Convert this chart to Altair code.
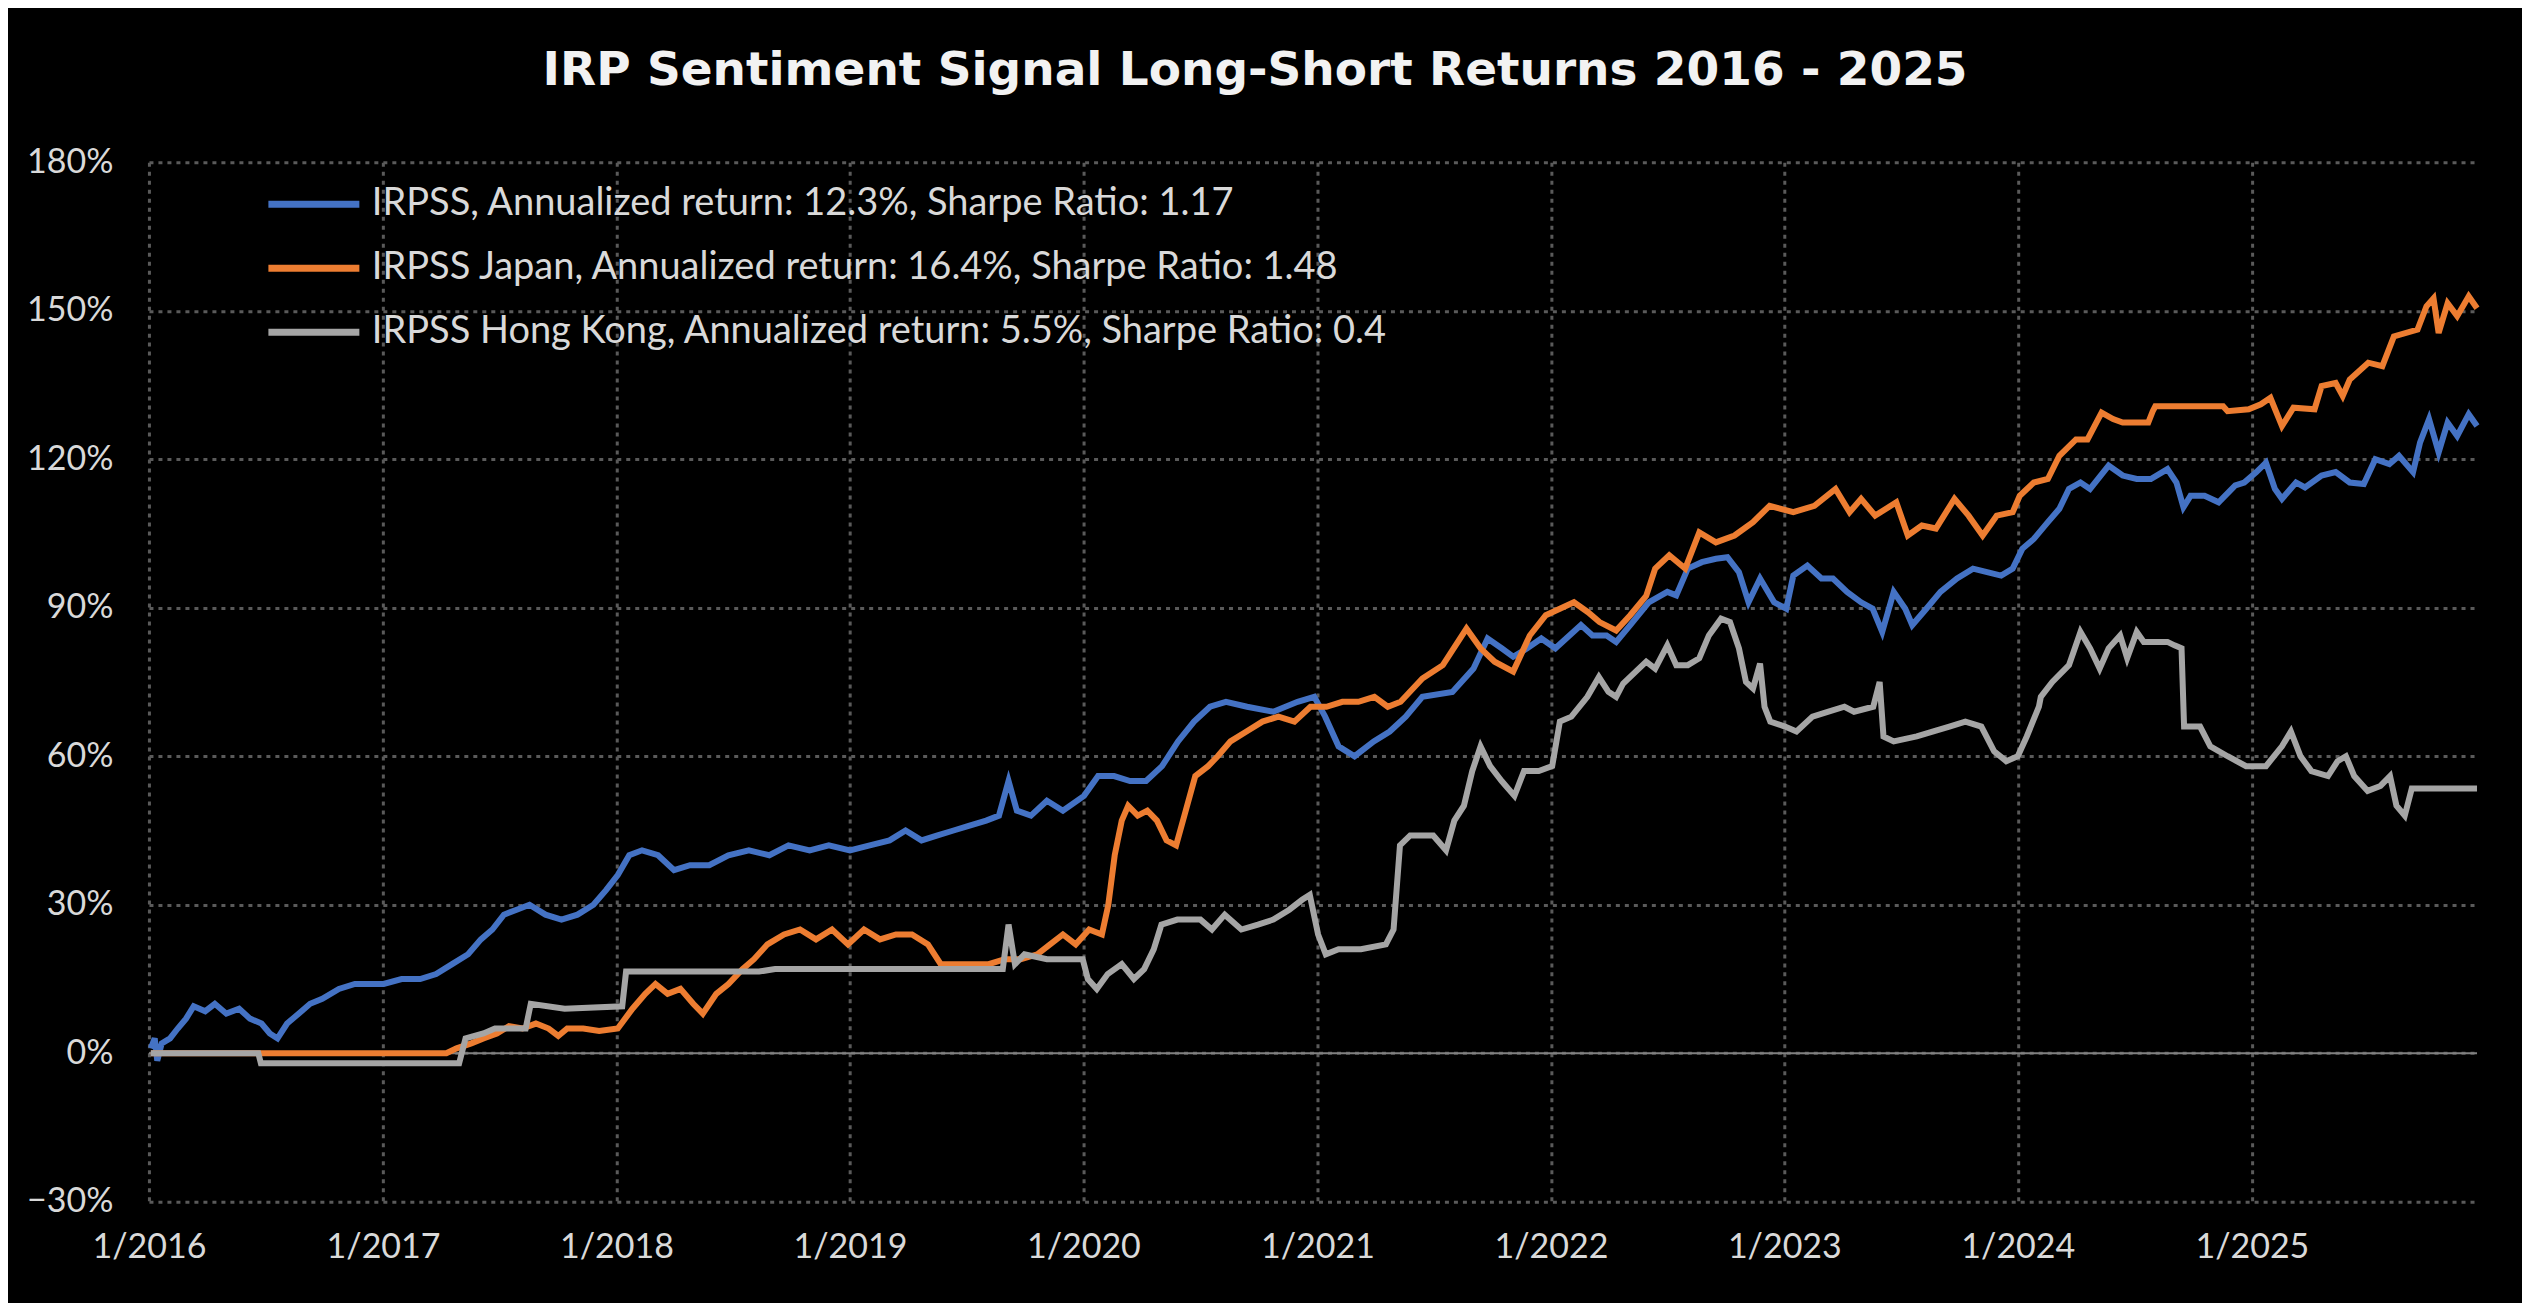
import altair as alt
import pandas as pd

TITLE = "IRP Sentiment Signal Long-Short Returns 2016 - 2025"
LABELS = [
    "IRPSS, Annualized return: 12.3%, Sharpe Ratio: 1.17",
    "IRPSS Japan, Annualized return: 16.4%, Sharpe Ratio: 1.48",
    "IRPSS Hong Kong, Annualized return: 5.5%, Sharpe Ratio: 0.4",
]
COLORS = ["#4472C4", "#ED7D31", "#A5A5A5"]

irpss_dates = [
    "2016-01-04", "2016-01-10", "2016-01-14", "2016-01-21", "2016-02-03", "2016-02-15", "2016-02-28",
    "2016-03-11", "2016-03-29", "2016-04-13", "2016-05-01", "2016-05-21", "2016-06-07", "2016-06-25",
    "2016-07-08", "2016-07-20", "2016-08-04", "2016-08-22", "2016-09-09", "2016-09-28", "2016-10-24",
    "2016-11-18", "2016-12-13", "2017-01-02", "2017-01-30", "2017-02-28", "2017-03-25", "2017-04-19",
    "2017-05-14", "2017-06-03", "2017-06-21", "2017-07-09", "2017-07-29", "2017-08-18", "2017-09-12",
    "2017-10-07", "2017-11-01", "2017-11-26", "2017-12-16", "2018-01-03", "2018-01-21", "2018-02-10",
    "2018-03-07", "2018-04-01", "2018-04-26", "2018-05-26", "2018-06-25", "2018-07-27", "2018-08-28",
    "2018-09-27", "2018-10-30", "2018-11-29", "2019-01-01", "2019-02-01", "2019-03-04", "2019-03-29",
    "2019-04-23", "2019-05-18", "2019-06-12", "2019-07-07", "2019-08-02", "2019-08-22", "2019-09-06",
    "2019-09-19", "2019-10-11", "2019-11-05", "2019-11-30", "2020-01-02", "2020-01-24", "2020-02-18",
    "2020-03-14", "2020-04-08", "2020-05-03", "2020-05-28", "2020-06-22", "2020-07-17", "2020-08-11",
    "2020-09-13", "2020-10-24", "2020-12-01", "2020-12-27", "2021-01-13", "2021-02-03", "2021-02-28",
    "2021-03-30", "2021-04-24", "2021-05-19", "2021-06-14", "2021-07-31", "2021-09-02", "2021-09-24",
    "2021-10-16", "2021-11-03", "2021-11-25", "2021-12-17", "2022-01-08", "2022-01-30", "2022-02-17",
    "2022-03-07", "2022-03-29", "2022-04-13", "2022-05-05", "2022-06-03", "2022-07-02", "2022-07-16",
    "2022-08-03", "2022-08-25", "2022-09-16", "2022-10-04", "2022-10-22", "2022-11-06", "2022-11-24",
    "2022-12-16", "2023-01-04", "2023-01-15", "2023-02-06", "2023-02-28", "2023-03-18", "2023-04-09",
    "2023-05-01", "2023-05-19", "2023-06-03", "2023-06-21", "2023-07-09", "2023-07-20", "2023-08-11",
    "2023-09-02", "2023-09-28", "2023-10-23", "2023-11-14", "2023-12-06", "2023-12-24", "2024-01-08",
    "2024-01-26", "2024-02-17", "2024-03-06", "2024-03-21", "2024-04-08", "2024-04-23", "2024-05-22",
    "2024-06-13", "2024-07-05", "2024-07-27", "2024-08-22", "2024-09-05", "2024-09-16", "2024-09-27",
    "2024-10-19", "2024-11-10", "2024-12-06", "2024-12-20", "2025-01-08", "2025-01-23", "2025-02-06",
    "2025-02-17", "2025-03-11", "2025-03-25", "2025-04-20", "2025-05-12", "2025-06-03", "2025-06-25",
    "2025-07-13", "2025-08-04", "2025-08-19", "2025-09-10", "2025-09-21", "2025-10-05", "2025-10-20",
    "2025-11-03", "2025-11-18", "2025-12-06", "2025-12-19",
]
irpss_vals = [
    1, 3, -1.5, 2, 3, 5, 7,
    9.5, 8.5, 10, 8, 9, 7, 6,
    4, 3, 6, 8, 10, 11, 13,
    14, 14, 14, 15, 15, 16, 18,
    20, 23, 25, 28, 29, 30, 28,
    27, 28, 30, 33, 36, 40, 41,
    40, 37, 38, 38, 40, 41, 40,
    42, 41, 42, 41, 42, 43, 45,
    43, 44, 45, 46, 47, 48, 55,
    49, 48, 51, 49, 52, 56, 56,
    55, 55, 58, 63, 67, 70, 71,
    70, 69, 71, 72, 68, 62, 60,
    63, 65, 68, 72, 73, 77.7, 83.8,
    81.8, 80.1, 81.8, 83.8, 81.8, 84.4, 86.5,
    84.4, 84.4, 83.1, 86.5, 91.1, 93.2, 92.5,
    97.9, 99.2, 99.9, 100.2, 97.2, 91.1, 95.9,
    91.1, 89.8, 96.5, 98.5, 95.9, 95.9, 93.2,
    91.1, 89.8, 85.1, 93.2, 89.8, 86.5, 89.8,
    93.2, 95.9, 97.9, 97.2, 96.5, 97.9, 101.9,
    103.9, 107.3, 110.0, 114.0, 115.3, 114.0, 118.7,
    116.7, 116.0, 116.0, 118.0, 115.3, 110.3, 112.6,
    112.6, 111.3, 114.7, 115.3, 117.4, 119.3, 114.0,
    112.0, 115.3, 114.3, 116.7, 117.4, 115.3, 115.0,
    120.0, 119.0, 120.7, 117.4, 123.4, 128.1, 121.4,
    127.4, 124.7, 129.1, 126.7,
]

japan_dates = [
    "2016-01-04", "2017-04-10", "2017-04-26", "2017-05-19", "2017-06-07", "2017-06-28", "2017-07-17",
    "2017-08-07", "2017-08-28", "2017-09-17", "2017-10-02", "2017-10-16", "2017-11-10", "2017-12-05",
    "2018-01-03", "2018-01-26", "2018-02-15", "2018-03-03", "2018-03-22", "2018-04-11", "2018-05-01",
    "2018-05-16", "2018-06-06", "2018-06-25", "2018-07-17", "2018-08-04", "2018-08-25", "2018-09-20",
    "2018-10-15", "2018-11-09", "2018-12-04", "2018-12-29", "2019-01-23", "2019-02-17", "2019-03-14",
    "2019-04-08", "2019-05-03", "2019-05-23", "2019-06-17", "2019-07-12", "2019-08-06", "2019-08-31",
    "2019-09-25", "2019-10-21", "2019-11-10", "2019-11-30", "2019-12-20", "2020-01-10", "2020-01-30",
    "2020-02-09", "2020-02-19", "2020-03-01", "2020-03-11", "2020-03-26", "2020-04-10", "2020-04-25",
    "2020-05-10", "2020-05-25", "2020-06-09", "2020-06-24", "2020-07-14", "2020-07-29", "2020-08-18",
    "2020-09-12", "2020-10-07", "2020-11-01", "2020-11-26", "2020-12-21", "2021-01-15", "2021-02-09",
    "2021-03-06", "2021-03-31", "2021-04-21", "2021-05-11", "2021-06-14", "2021-07-16", "2021-08-22",
    "2021-09-13", "2021-10-05", "2021-11-03", "2021-11-29", "2021-12-24", "2022-01-15", "2022-02-06",
    "2022-02-28", "2022-03-18", "2022-04-13", "2022-05-05", "2022-05-30", "2022-06-13", "2022-07-05",
    "2022-07-30", "2022-08-21", "2022-09-16", "2022-10-15", "2022-11-13", "2022-12-09", "2023-01-15",
    "2023-02-17", "2023-03-22", "2023-04-13", "2023-05-01", "2023-05-23", "2023-06-25", "2023-07-13",
    "2023-08-04", "2023-08-26", "2023-09-24", "2023-10-16", "2023-11-07", "2023-11-29", "2023-12-24",
    "2024-01-04", "2024-01-26", "2024-02-17", "2024-03-06", "2024-04-01", "2024-04-19", "2024-05-11",
    "2024-05-29", "2024-06-13", "2024-07-23", "2024-07-30", "2024-08-03", "2024-11-17", "2024-11-24",
    "2024-12-27", "2025-01-15", "2025-01-30", "2025-02-17", "2025-03-07", "2025-04-09", "2025-04-20",
    "2025-05-12", "2025-05-23", "2025-06-03", "2025-07-02", "2025-07-24", "2025-08-11", "2025-09-17",
    "2025-10-01", "2025-10-12", "2025-10-20", "2025-11-03", "2025-11-18", "2025-12-06", "2025-12-19",
]
japan_vals = [
    0, 0, 1, 2, 3, 4, 5.5,
    5, 6, 5, 3.5, 5, 5, 4.5,
    5, 9, 12, 14, 12, 13, 10,
    8, 12, 14, 17, 19, 22, 24,
    25, 23, 25, 22, 25, 23, 24,
    24, 22, 18, 18, 18, 18, 19,
    19, 20, 22, 24, 22, 25, 24,
    30, 40, 47, 50, 48, 49, 47,
    43, 42, 49, 56, 58, 60, 63,
    65, 67, 68, 67, 70, 70, 71,
    71, 72, 70, 71, 75.7, 78.4, 85.8,
    81.8, 79.1, 77.1, 84.4, 88.5, 89.8, 91.1,
    89.1, 87.1, 85.4, 88.5, 92.4, 97.9, 100.6,
    97.9, 105.2, 103.2, 104.6, 107.3, 110.6, 109.3,
    110.6, 114.0, 109.3, 112.0, 108.6, 111.3, 104.6,
    106.6, 106.0, 112.0, 108.6, 104.6, 108.6, 109.3,
    112.6, 115.3, 116.0, 120.7, 124.0, 124.0, 129.4,
    128.1, 127.4, 127.4, 129.7, 130.7, 130.7, 129.7,
    130.1, 131.1, 132.4, 126.7, 130.4, 130.1, 134.8,
    135.4, 132.8, 136.1, 139.5, 138.8, 144.8, 146.2,
    150.9, 152.5, 145.5, 151.5, 148.9, 152.9, 150.5,
]

hk_dates = [
    "2016-01-04", "2016-06-20", "2016-06-24", "2017-04-30", "2017-05-10", "2017-06-07", "2017-06-25",
    "2017-08-12", "2017-08-20", "2017-10-12", "2018-01-10", "2018-01-16", "2018-08-12", "2018-09-06",
    "2019-08-28", "2019-09-06", "2019-09-16", "2019-10-01", "2019-11-05", "2019-12-31", "2020-01-08",
    "2020-01-22", "2020-02-08", "2020-03-01", "2020-03-20", "2020-04-05", "2020-04-20", "2020-05-02",
    "2020-05-27", "2020-07-02", "2020-07-20", "2020-08-09", "2020-09-04", "2020-09-30", "2020-10-24",
    "2020-11-18", "2020-12-08", "2020-12-20", "2021-01-02", "2021-01-14", "2021-02-03", "2021-03-10",
    "2021-04-18", "2021-04-30", "2021-05-10", "2021-05-26", "2021-07-01", "2021-07-21", "2021-08-03",
    "2021-08-18", "2021-08-31", "2021-09-13", "2021-09-28", "2021-10-16", "2021-11-05", "2021-11-20",
    "2021-12-13", "2022-01-03", "2022-01-15", "2022-02-02", "2022-02-27", "2022-03-17", "2022-04-01",
    "2022-04-13", "2022-04-24", "2022-05-30", "2022-06-13", "2022-07-02", "2022-07-16", "2022-08-03",
    "2022-08-21", "2022-09-05", "2022-09-24", "2022-10-08", "2022-10-22", "2022-11-02", "2022-11-13",
    "2022-11-24", "2022-12-01", "2022-12-10", "2023-01-02", "2023-01-20", "2023-02-14", "2023-03-11",
    "2023-04-05", "2023-04-20", "2023-05-20", "2023-05-30", "2023-06-05", "2023-06-21", "2023-07-27",
    "2023-08-22", "2023-09-16", "2023-10-11", "2023-11-05", "2023-11-25", "2023-12-14", "2024-01-01",
    "2024-01-15", "2024-02-03", "2024-02-06", "2024-02-24", "2024-03-21", "2024-04-08", "2024-04-23",
    "2024-05-08", "2024-05-22", "2024-06-09", "2024-06-20", "2024-07-05", "2024-07-16", "2024-08-22",
    "2024-09-02", "2024-09-13", "2024-09-17", "2024-10-12", "2024-10-28", "2024-11-24", "2024-12-23",
    "2025-01-23", "2025-02-17", "2025-03-03", "2025-03-18", "2025-04-04", "2025-04-30", "2025-05-15",
    "2025-05-28", "2025-06-10", "2025-07-01", "2025-07-21", "2025-08-05", "2025-08-15", "2025-08-28",
    "2025-09-08", "2025-12-19",
]
hk_vals = [
    0, 0, -2, -2, 3, 4, 5,
    5, 10, 9, 9.5, 16.5, 16.5, 17,
    17, 26, 18, 20, 19, 19, 15,
    13, 16, 18, 15, 17, 21, 26,
    27, 27, 25, 28, 25, 26, 27,
    29, 31, 32, 24, 20, 21, 21,
    22, 25, 42, 44, 44, 41, 47,
    50, 57, 62, 58, 55, 52, 57,
    57, 58, 67, 68, 72, 76, 73,
    72, 74.7, 79.1, 77.7, 82.4, 78.4, 78.4,
    79.8, 84.4, 87.8, 87.1, 81.8, 75.0, 73.7,
    78.7, 70, 67, 66, 65, 68, 69,
    70, 69, 70, 75, 64, 63, 64,
    65, 66, 67, 66, 61, 59, 60,
    64, 70, 72, 75, 78.4, 85.1, 81.8,
    77.7, 81.8, 84.4, 79.8, 85.1, 83.1, 83.1,
    82.4, 81.8, 66, 66, 62, 60, 58,
    58, 62, 65, 60, 57, 56, 59,
    60, 56, 53, 54, 56, 50, 48,
    53.5, 53.5,
]

frames = []
for lab, ds, vs in zip(LABELS, [irpss_dates, japan_dates, hk_dates], [irpss_vals, japan_vals, hk_vals]):
    frames.append(pd.DataFrame({"date": ds, "value": [v / 100 for v in vs], "series": lab}))
df = pd.concat(frames, ignore_index=True)

FONT = "Lato"
TXT = "#D9D9D9"
GRID = "#5A5A5A"

x_enc = alt.X(
    "date:T",
    scale=alt.Scale(domain=[alt.DateTime(year=2016, month=1, date=1), alt.DateTime(year=2025, month=12, date=19)]),
    axis=alt.Axis(
        title=None, format="%-m/%Y",
        values=[alt.DateTime(year=y, month=1, date=1) for y in range(2016, 2026)],
        labelFontSize=34, labelFont=FONT, labelColor=TXT, labelPadding=29,
        ticks=False, tickSize=0, domain=False, labelOverlap=False, labelBound=False, labelFlush=False,
        grid=True, gridColor=GRID, gridDash=[4, 5], gridWidth=3,
    ),
)
y_enc = alt.Y(
    "value:Q",
    scale=alt.Scale(domain=[-0.3, 1.8], nice=False),
    axis=alt.Axis(
        title=None, format=".0%", values=[-0.3, 0, 0.3, 0.6, 0.9, 1.2, 1.5, 1.8],
        labelFontSize=34, labelFont=FONT, labelColor=TXT, labelPadding=36,
        ticks=False, tickSize=0, domain=False,
        grid=True, gridColor=GRID, gridDash=[4, 5], gridWidth=3,
    ),
)
color_enc = alt.Color(
    "series:N",
    scale=alt.Scale(domain=LABELS, range=COLORS),
    legend=alt.Legend(
        title=None, orient="none", legendX=143, legendY=20,
        symbolType="M-2.5,0L2.5,0", symbolSize=1325, symbolStrokeWidth=7,
        labelFontSize=38, labelFont=FONT, labelColor=TXT, labelOffset=36,
        rowPadding=23, padding=0, labelLimit=2000,
    ),
)

zero = alt.Chart(pd.DataFrame({"v": [0.0]})).mark_rule(color="#808080", strokeWidth=2).encode(y="v:Q")

lines = [
    alt.Chart(df).transform_filter(alt.datum.series == lab).mark_line(strokeWidth=6).encode(
        x=x_enc, y=y_enc, color=color_enc
    )
    for lab in LABELS
]

chart = alt.layer(zero, *lines).properties(
    width=2329, height=1040,
    title=alt.TitleParams(TITLE, fontSize=47, font="DejaVu Sans", fontWeight="bold", color="#F2F2F2",
                          anchor="middle", frame="group", dx=-58, offset=50),
    autosize=alt.AutoSizeParams(type="none"),
    padding={"left": 141, "top": 154, "right": 45, "bottom": 101},
    background="#000000",
).configure_view(stroke=None)

chart.save("out.html", embed_options={"renderer": "svg", "actions": False})
